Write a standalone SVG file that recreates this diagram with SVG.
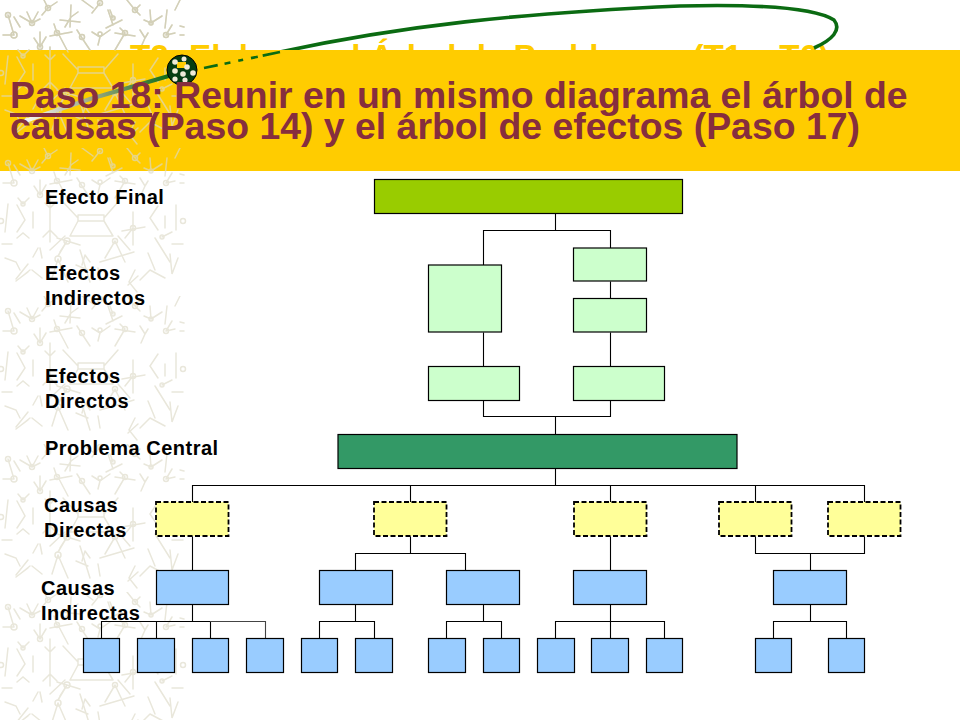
<svg xmlns="http://www.w3.org/2000/svg" width="960" height="720" viewBox="0 0 960 720">
<style>
.n{stroke:#000;stroke-width:1.2}
.lg{fill:#CCFFCC}.y{fill:#FFFF99;stroke-dasharray:5 2.5;stroke-width:1.8}.b{fill:#99CCFF}
.lbl{font:bold 20px "Liberation Sans",Arial,sans-serif;letter-spacing:.5px;fill:#000}
.ttl{font:bold 37.4px "Liberation Sans",Arial,sans-serif;fill:#862E3E}
.old{font:bold 33.2px "Liberation Sans",Arial,sans-serif;fill:#FFCC00}
#conn path{fill:none;stroke:#000;stroke-width:1.1}
.st{fill:none;stroke:currentColor;stroke-width:1.5;stroke-linecap:round}
</style>
<defs>
<g id="tile" class="st" transform="translate(0,-148)">
<circle cx="8" cy="163" r="2.5"/><circle cx="14" cy="183" r="3"/><path d="M8 163L14 183M14 165L20 175M3 183L14 183"/>
<circle cx="32" cy="171" r="2.5"/><path d="M32 171L27 160M32 171L38 160M32 171L20 164M32 171L40 167"/>
<circle cx="48" cy="156" r="2.5"/><path d="M48 156L57 150M48 156L42 163M48 156L44 148"/>
<path d="M71 153L70 175M60 168L80 170M65 175L71 165M71 165L78 160"/>
<circle cx="100" cy="151" r="2.5"/><path d="M100 151L92 161M82 148L93 156"/>
<circle cx="113" cy="166" r="2"/><path d="M108 158L113 173M122 168L106 176M113 166L110 158"/>
<circle cx="135" cy="158" r="2.5"/><path d="M127 148L135 158M140 153L135 158M135 158L140 163"/>
<circle cx="151" cy="171" r="2"/><path d="M150 158L151 171M144 168L151 171M151 171L162 164"/>
<path d="M167 158L165 176M180 148L175 158"/><circle cx="166" cy="183" r="2.5"/><path d="M166 183L172 173M166 183L175 181M180 174L184 175M180 183L184 183"/>
<circle cx="40" cy="195" r="2.5"/><path d="M40 180L40 195M34 186L40 195M46 185L40 195"/>
<circle cx="57" cy="181" r="2.5"/><path d="M50 184L72 180M58 181L68 200M57 181L54 172"/>
<circle cx="82" cy="185" r="2.5"/><path d="M77 178L82 186L90 198"/>
<circle cx="100" cy="182" r="2"/><path d="M92 180L100 185M110 178L100 185L98 193"/>
<circle cx="125" cy="181" r="2.5"/><path d="M115 181L135 184M125 181L115 198M125 181L120 176"/>
<path d="M145 186L140 178M145 186L148 181M145 186L141 195"/>
<path d="M78 215H104M78 221H104M78 215V221M104 215V221M78 218L63 202M104 218L118 202M78 221L70 236M104 221L113 236M70 236H113M65 236L50 250M118 236L130 250"/>
<path d="M17 205L25 220L17 232M8 204L5 232M33 212L33 228"/><circle cx="1" cy="221" r="2.5"/>
<path d="M50 195V242M50 208L45 203M50 208L55 203M50 230L43 237M50 230L57 237"/>
<circle cx="23" cy="204" r="2"/><path d="M23 204L29 198M23 204L18 198M17 238L23 233L29 238"/>
<path d="M158 206L150 218L158 230M176 205L176 230M165 216V228"/><circle cx="183" cy="221" r="2.5"/>
<circle cx="133" cy="228" r="2.5"/><path d="M122 231L145 227M133 212V245M133 228L125 238"/>
<circle cx="67" cy="241" r="3"/><path d="M57 238L80 245M67 241L60 252M67 241L58 256"/>
<circle cx="115" cy="241" r="2.5"/><path d="M100 262L134 252M115 241L125 262M115 241L105 258"/>
<circle cx="162" cy="237" r="2"/><path d="M155 238L170 262M162 237L172 232"/>
<path d="M2 244H12M172 244H183M85 255L82 265M85 255L90 262"/>
<path d="M5 258L16 262L20 270M38 248L33 257M40 248L42 258M28 264L16 279"/>
<path d="M30 270L20 278M32 270L42 278M16 281L28 272"/><circle cx="58" cy="259" r="3"/><path d="M58 259L52 278M58 259L68 282"/>
<path d="M80 250L90 282M98 268L100 280M76 265L88 270"/>
<path d="M148 253L155 270M150 270L165 278M150 270L140 280M170 254L172 274L178 258"/>
<path d="M135 270L129 282L137 292M128 285L138 276"/>
</g>
<pattern id="pt" patternUnits="userSpaceOnUse" x="0" y="0" width="187" height="148"><g color="#e9e7db"><use href="#tile"/></g></pattern>
<pattern id="pa" patternUnits="userSpaceOnUse" x="0" y="0" width="187" height="148"><g color="#d3d0b8"><use href="#tile"/></g></pattern>
<pattern id="pb" patternUnits="userSpaceOnUse" x="0" y="0" width="187" height="148"><g color="#dcd8c0" opacity=".7"><use href="#tile"/></g></pattern>
<linearGradient id="fade" gradientUnits="userSpaceOnUse" x1="172" y1="75" x2="22" y2="122"><stop offset="0" stop-color="#0b6b12"/><stop offset=".55" stop-color="#a0ab88"/><stop offset="1" stop-color="#fff"/></linearGradient>
</defs>
<rect width="960" height="720" fill="#fff"/>
<rect id="bg" x="0" y="0" width="187" height="720" fill="url(#pt)"/>
<rect x="0" y="0" width="187" height="50" fill="url(#pa)"/>
<text class="old" x="130" y="68">T2: Elaborar el Árbol de Problemas (T1 a T6)</text>
<path d="M280 52C400 26 520 13 680 6C760 4 815 8 834 20C842 30 832 40 814 48" fill="none" stroke="#0b6b12" stroke-width="3.6"/>
<rect id="band" x="0" y="50" width="960" height="121" fill="#FFCC00"/>
<rect x="0" y="50" width="187" height="121" fill="url(#pb)"/>
<path d="M172 75L90 99L25 121" fill="none" stroke="url(#fade)" stroke-width="4"/>
<path d="M204 68L280 52" fill="none" stroke="#0b6b12" stroke-width="2.6" stroke-dasharray="14 7 6 8 5 8 7 5 30 0"/>
<g id="ball"><circle cx="182" cy="70" r="15" fill="#063d12" stroke="#000" stroke-width="1"/>
<path d="M177 62H186V68H177Z" fill="#FFCC00"/>
<g fill="#efead8"><circle cx="175" cy="62" r="2.8"/><circle cx="184" cy="59" r="2.5"/><circle cx="187" cy="67" r="2.8"/><circle cx="175" cy="71" r="2.8"/><circle cx="183" cy="74" r="2.8"/><circle cx="193" cy="73" r="2.8"/><circle cx="175" cy="79" r="2.6"/><circle cx="185" cy="80" r="2.6"/></g></g>
<g id="title"><text class="ttl" x="10" y="108">Paso 18: Reunir en un mismo diagrama el árbol de</text>
<text class="ttl" x="10" y="139">causas (Paso 14) y el árbol de efectos (Paso 17)</text>
<rect x="10" y="113" width="142" height="4" fill="#862E3E"/></g>
<g id="labels">
<text class="lbl" x="45" y="204">Efecto Final</text>
<text class="lbl" x="45" y="280">Efectos</text><text class="lbl" x="45" y="305">Indirectos</text>
<text class="lbl" x="45" y="383">Efectos</text><text class="lbl" x="45" y="408">Directos</text>
<text class="lbl" x="45" y="455">Problema Central</text>
<text class="lbl" x="44" y="512">Causas</text><text class="lbl" x="44" y="537">Directas</text>
<text class="lbl" x="41" y="595">Causas</text><text class="lbl" x="41" y="620">Indirectas</text>
</g>
<g id="conn" transform="translate(.5,.5)">
<path d="M555 213V230M483 265V230H610V248M610 281V298M483 332V366M610 332V366M483 400V416H610V400M555 416V434M555 468V485"/>
<path d="M192 502V485H864V502M410 485V502M610 485V502M755 485V502"/>
<path d="M192 536V570M410 536V553M355 570V553H465V570M610 536V570M755 536V553H864V536M810 553V570"/>
<path d="M192 604V621M101 638V621H210M156 621V638M210 621V638"/><path d="M210 621H265V638" style="stroke:#444"/>
<path d="M355 604V621M319 638V621H374V638M483 604V621M446 638V621H501V638M610 604V638M555 638V621H664V638M810 604V621M773 638V621H846V638"/>
</g>
<g id="efecto-final"><rect class="n" x="374.500" y="179.500" width="308" height="34" fill="#99CC00"/></g>
<g id="ei1"><rect class="n lg" x="428.500" y="265" width="73" height="67"/></g>
<g id="ei2"><rect class="n lg" x="573.500" y="248" width="73" height="33"/></g>
<g id="ei3"><rect class="n lg" x="573.500" y="298.500" width="73" height="33.500"/></g>
<g id="ed1"><rect class="n lg" x="428.500" y="366.500" width="91" height="34"/></g>
<g id="ed2"><rect class="n lg" x="573.500" y="366.500" width="91" height="34"/></g>
<g id="problema"><rect class="n" x="338" y="434.500" width="399" height="34" fill="#339966"/></g>
<g id="cd1"><rect class="n y" x="156" y="502" width="72.500" height="34"/></g>
<g id="cd2"><rect class="n y" x="374" y="502" width="72.500" height="34"/></g>
<g id="cd3"><rect class="n y" x="574" y="502" width="72.500" height="34"/></g>
<g id="cd4"><rect class="n y" x="719" y="502" width="72.500" height="34"/></g>
<g id="cd5"><rect class="n y" x="828" y="502" width="72.500" height="34"/></g>
<g id="ci1"><rect class="n b" x="156.500" y="570.500" width="72" height="34"/></g>
<g id="ci2"><rect class="n b" x="319.500" y="570.500" width="73" height="34"/></g>
<g id="ci3"><rect class="n b" x="446.500" y="570.500" width="73" height="34"/></g>
<g id="ci4"><rect class="n b" x="573.500" y="570.500" width="73" height="34"/></g>
<g id="ci5"><rect class="n b" x="773.500" y="570.500" width="73" height="34"/></g>
<g id="h1"><rect class="n b" x="83.500" y="638.500" width="36" height="34"/></g>
<g id="h2"><rect class="n b" x="137.500" y="638.500" width="37" height="34"/></g>
<g id="h3"><rect class="n b" x="192.500" y="638.500" width="36" height="34"/></g>
<g id="h4"><rect class="n b" x="246.500" y="638.500" width="37" height="34"/></g>
<g id="h5"><rect class="n b" x="301.500" y="638.500" width="36" height="34"/></g>
<g id="h6"><rect class="n b" x="355.500" y="638.500" width="37" height="34"/></g>
<g id="h7"><rect class="n b" x="428.500" y="638.500" width="37" height="34"/></g>
<g id="h8"><rect class="n b" x="483.500" y="638.500" width="36" height="34"/></g>
<g id="h9"><rect class="n b" x="537.500" y="638.500" width="37" height="34"/></g>
<g id="h10"><rect class="n b" x="591.500" y="638.500" width="37" height="34"/></g>
<g id="h11"><rect class="n b" x="646.500" y="638.500" width="36" height="34"/></g>
<g id="h12"><rect class="n b" x="755.500" y="638.500" width="36" height="34"/></g>
<g id="h13"><rect class="n b" x="828.500" y="638.500" width="36" height="34"/></g>
</svg>
